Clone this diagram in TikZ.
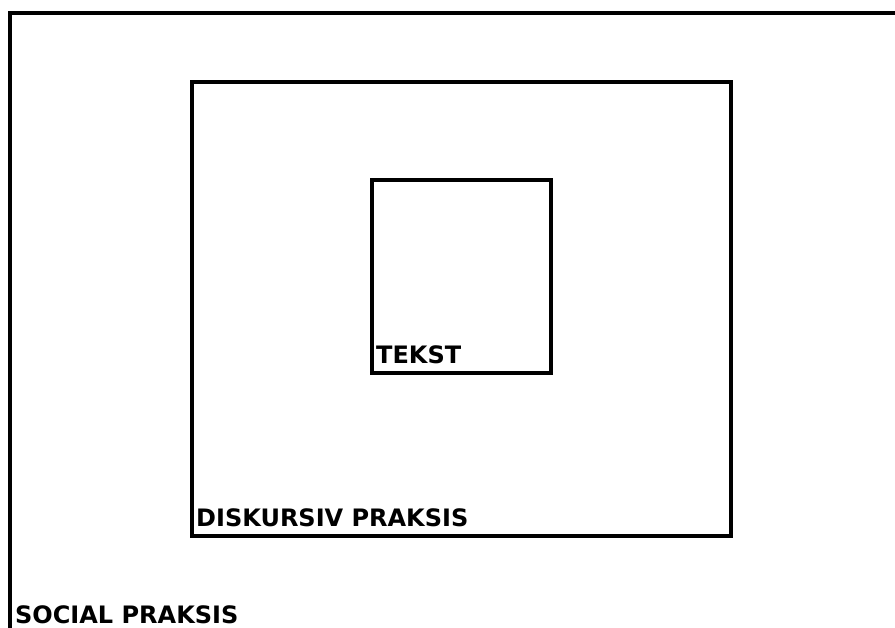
\documentclass[tikz,border=0pt]{standalone}
\usepackage{fontspec}
\setmainfont{DejaVu Sans}
\begin{document}
\begin{tikzpicture}[x=1pt,y=-1pt,
  frame/.style={draw=black,line width=4pt},
  lbl/.style={font=\bfseries\fontsize{24}{28}\selectfont,inner sep=0pt,anchor=base west}]
\useasboundingbox (0,0) rectangle (895,628);
\begin{scope}
\clip (0,0) rectangle (895,628);
\draw[frame] (10,640) -- (10,13) -- (910,13);
\end{scope}
\node[frame,inner sep=0pt,minimum width=539pt,minimum height=454pt,anchor=north west] (diskursiv) at (190,80) {};
\node[frame,inner sep=0pt,minimum width=179pt,minimum height=193pt,anchor=north west] (tekst) at (369.5,178) {};
\node[lbl] (tekstlbl) at (376,364) {TEKST};
\node[lbl] (disklbl) at (196,526) {DISKURSIV PRAKSIS};
\node[lbl] (sociallbl) at (15,623) {SOCIAL PRAKSIS};
\end{tikzpicture}
\end{document}
